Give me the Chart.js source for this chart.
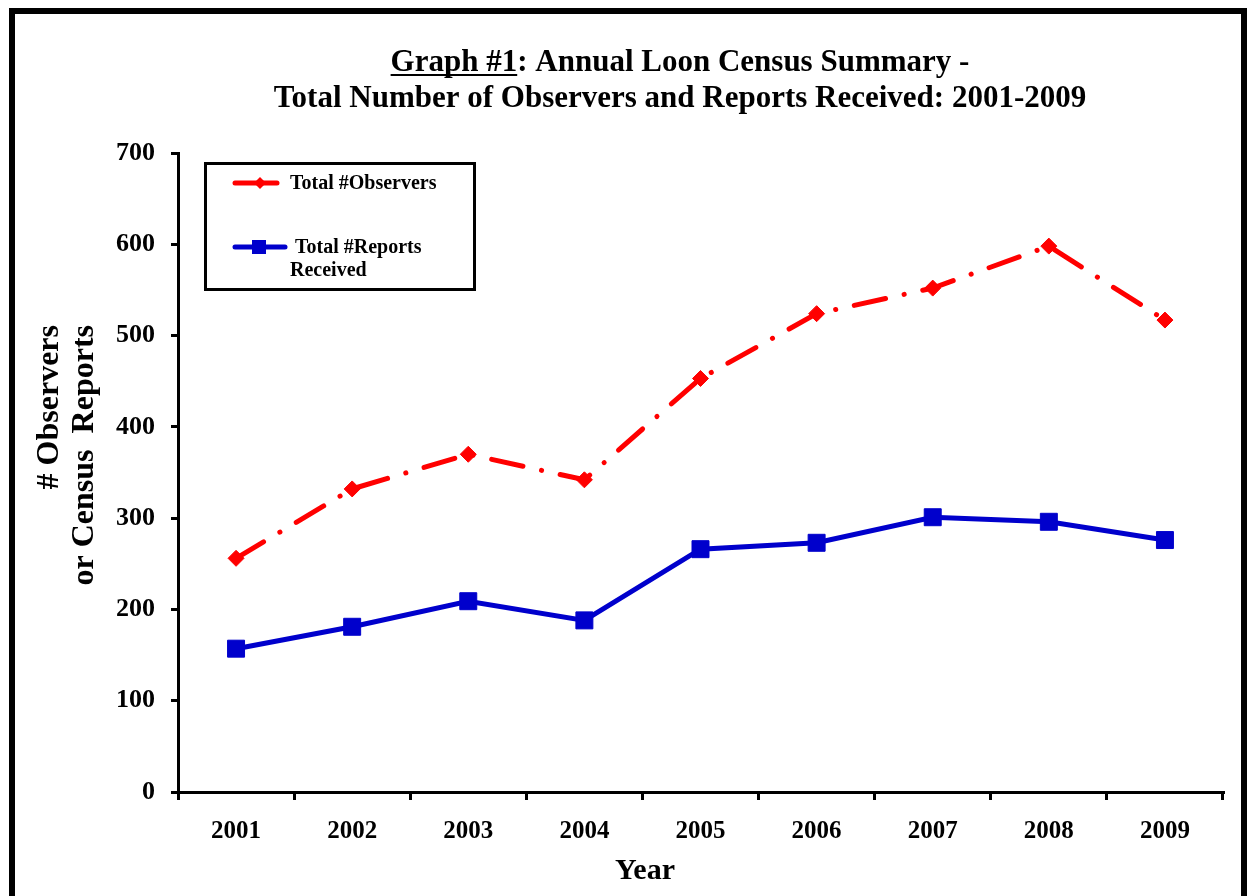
<!DOCTYPE html>
<html>
<head>
<meta charset="utf-8">
<script src="https://cdn.jsdelivr.net/npm/chart.js@4"></script>
<style>
  body { margin: 0; background: #fff; }
  canvas { display: block; }
</style>
</head>
<body>
<canvas id="loonChart" width="1248" height="896"></canvas>
<script>
// chart data
var years = ['2001', '2002', '2003', '2004', '2005', '2006', '2007', '2008', '2009'];
var observers = [256, 332, 370, 342, 453, 524, 552, 598, 517];
var reports = [157, 181, 209, 188, 266, 273, 301, 296, 276];
var yTicks = [0, 100, 200, 300, 400, 500, 600, 700];
var yTitle = ['# Observers', 'or Census  Reports'];
var xTitle = 'Year';

var serif = '"Liberation Serif", "Times New Roman", serif';

// frame, titles and the boxed legend
var decorPlugin = {
    id: 'decor',
    afterDraw: function (chart) {
        var ctx = chart.ctx;
        ctx.save();

        // outer frame
        ctx.strokeStyle = '#000';
        ctx.lineWidth = 6;
        ctx.strokeRect(12, 11, 1232, 900);

        // title
        ctx.fillStyle = '#000';
        ctx.font = 'bold 31px ' + serif;
        ctx.textBaseline = 'alphabetic';
        ctx.textAlign = 'left';
        var part1 = 'Graph #1';
        var part2 = ': Annual Loon Census Summary -';
        var w1 = ctx.measureText(part1).width;
        var w2 = ctx.measureText(part2).width;
        var sx = 680 - (w1 + w2) / 2;
        ctx.fillText(part1, sx, 71);
        ctx.fillText(part2, sx + w1, 71);
        ctx.fillRect(sx, 74, w1, 2);
        ctx.textAlign = 'center';
        ctx.fillText('Total Number of Observers and Reports Received: 2001-2009', 680, 107);

        // axis titles
        ctx.font = 'bold 30px ' + serif;
        ctx.fillText(xTitle, 645, 879);

        ctx.save();
        ctx.font = 'bold 32px ' + serif;
        ctx.textAlign = 'right';
        ctx.textBaseline = 'alphabetic';
        ctx.translate(58, 325);
        ctx.rotate(-Math.PI / 2);
        ctx.fillText(yTitle[0], 0, 0);
        ctx.fillText(yTitle[1], 0, 35);
        ctx.restore();

        // legend box
        var ds = chart.data.datasets;
        ctx.lineWidth = 3;
        ctx.strokeStyle = '#000';
        ctx.strokeRect(205.5, 163.5, 269, 126);

        ctx.lineCap = 'round';
        ctx.strokeStyle = ds[0].borderColor;
        ctx.lineWidth = 5;
        ctx.beginPath();
        ctx.moveTo(235, 183);
        ctx.lineTo(277, 183);
        ctx.stroke();
        ctx.fillStyle = ds[0].borderColor;
        ctx.beginPath();
        ctx.moveTo(260, 177);
        ctx.lineTo(266, 183);
        ctx.lineTo(260, 189);
        ctx.lineTo(254, 183);
        ctx.closePath();
        ctx.fill();

        ctx.strokeStyle = ds[1].borderColor;
        ctx.beginPath();
        ctx.moveTo(235, 247);
        ctx.lineTo(285, 247);
        ctx.stroke();
        ctx.fillStyle = ds[1].borderColor;
        ctx.fillRect(252, 240, 14, 14);

        ctx.fillStyle = '#000';
        ctx.font = 'bold 20px ' + serif;
        ctx.textAlign = 'left';
        ctx.textBaseline = 'middle';
        ctx.fillText('Total #Observers', 290, 184);
        ctx.fillText('Total #Reports', 295, 248);
        ctx.fillText('Received', 290, 271);

        ctx.restore();
    }
};

var ctx = document.getElementById('loonChart').getContext('2d');
var loonChart = new Chart(ctx, {
    type: 'line',
    data: {
        labels: years,
        datasets: [
            {
                label: 'Total #Observers',
                data: observers,
                borderColor: '#ff0000',
                backgroundColor: '#ff0000',
                borderWidth: 5,
                borderDash: [32, 19, 0.1, 19],
                borderCapStyle: 'round',
                tension: 0,
                pointStyle: 'rectRot',
                pointRadius: 8,
                pointBorderWidth: 1,
                pointBackgroundColor: '#ff0000',
                pointBorderColor: '#ff0000'
            },
            {
                label: 'Total #Reports Received',
                data: reports,
                borderColor: '#0000cc',
                backgroundColor: '#0000cc',
                borderWidth: 5,
                tension: 0,
                pointStyle: 'rect',
                pointRadius: 12,
                pointBorderWidth: 1,
                pointBackgroundColor: '#0000cc',
                pointBorderColor: '#0000cc'
            }
        ]
    },
    options: {
        responsive: false,
        animation: false,
        layout: {
            padding: { top: 153, right: 25, bottom: 0, left: 0 }
        },
        plugins: {
            legend: { display: false },
            title: { display: false },
            tooltip: { enabled: false }
        },
        scales: {
            x: {
                offset: true,
                grid: {
                    offset: true,
                    drawOnChartArea: false,
                    color: '#000',
                    lineWidth: 3,
                    tickLength: 8
                },
                border: { color: '#000', width: 3 },
                ticks: {
                    color: '#000',
                    padding: 17,
                    font: { family: serif, size: 25, weight: 'bold' }
                },
                afterFit: function (scale) { scale.height = 104; }
            },
            y: {
                min: yTicks[0],
                max: yTicks[yTicks.length - 1],
                afterBuildTicks: function (scale) {
                    scale.ticks = yTicks.map(function (v) { return { value: v }; });
                },
                grid: {
                    drawOnChartArea: false,
                    color: '#000',
                    lineWidth: 3,
                    tickLength: 7
                },
                border: { color: '#000', width: 3 },
                ticks: {
                    color: '#000',
                    padding: 16,
                    font: { family: serif, size: 26, weight: 'bold' }
                },
                afterFit: function (scale) { scale.width = 178; }
            }
        }
    },
    plugins: [decorPlugin]
});
</script>
</body>
</html>
